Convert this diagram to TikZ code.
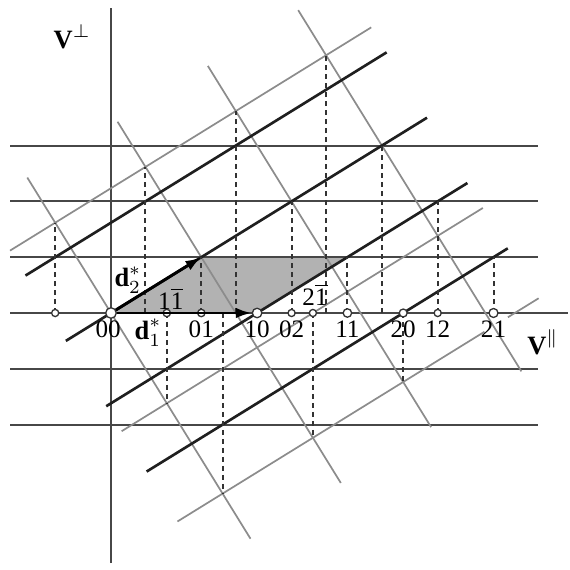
\documentclass[tikz,border=0pt]{standalone}
\usepackage{fontspec}
\setmainfont{Liberation Serif}
\usepackage{amsmath}
\usetikzlibrary{arrows.meta,calc}

\tikzset{
  axisline/.style={black!72,line width=0.85pt},
  rowline/.style={black!72,line width=0.8pt},
  darkline/.style={black!88,line width=1pt},
  lightline/.style={black!45,line width=0.65pt},
  drop/.style={black!80,line width=0.75pt,dash pattern=on 2pt off 1.4pt},
  spot/.style={circle,draw=black!80,fill=white,line width=0.5pt,inner sep=0pt,minimum size=#1},
  vec/.style={black,line width=1.1pt,-{Latex[length=6pt,width=4pt]}},
  idx/.style={inner sep=0pt,font=\fontsize{9.5}{11}\selectfont}
}

\begin{document}
\begin{tikzpicture}[x=1.2cm,y=1.2cm]
  \pgfmathsetmacro{\g}{1.618034}
  \useasboundingbox (-1.2292,-2.8461) rectangle (5.0831,3.4662);
  % unit cell
  \fill[black!30] (0,0) -- (\g,0) -- (\g+1,1/\g) -- (1,1/\g) -- cycle;
  % axes and the rows k = const
  \draw[axisline] (-1.118,0) -- (5.06,0);
  \draw[axisline] (0,-2.769) -- (0,3.378);
  \foreach \k in {-2,-1,1,2,3}
    \draw[rowline] (-1.118,\k/\g) -- (4.729,\k/\g);
  % square lattice and sheared lines, rotated frame
  \begin{scope}[rotate=31.7175,scale=1.17557]
    \foreach \j in {0,...,3}
      \draw[lightline] (\j,1.5) -- (\j,-2.5);
    \draw[lightline] (-0.5,1) -- (3.5,1);
    \draw[lightline] (-0.5,-1) -- (3.5,-1);
    \draw[lightline] (-0.5,-2) -- (2.9,-2) (3.16,-2) -- (3.5,-2);
    \foreach \h in {-1,...,2}
      \draw[darkline] (-0.5,{-0.7236*(\h)}) -- (3.5,{-0.7236*(\h)});
  \end{scope}
  % projections onto V parallel
  \foreach \h/\k in {-1/1,-1/2,-1/3,-1/4,0/1,0/2,0/3,1/-1,2/-2,2/-1,2/0}
    \draw[drop] ({(\h)*\g+(\k)},0) -- ({(\h)*\g+(\k)},{(\k)/\g-(\h)/\g/\g});
  \foreach \h/\k in {1/1,1/2,2/1}
    \draw[drop] ({(\h)*\g+(\k)},0) -- ({(\h)*\g+(\k)},{(\k)/\g});
  % reflections
  \foreach \n/\h/\k/\s in {m11/-1/1/2.7pt,00/0/0/4pt,1m1/1/-1/2.8pt,01/0/1/2.8pt,
      10/1/0/3.6pt,02/0/2/2.7pt,2m1/2/-1/2.7pt,11/1/1/3.2pt,20/2/0/3pt,
      12/1/2/2.7pt,21/2/1/3.4pt}
    \node[spot=\s] (S\n) at ({(\h)*\g+(\k)},0) {};
  \coordinate (C01) at (1,1/\g);
  \draw[vec] (S00) -- (S10);
  \draw[vec] (S00) -- (C01);
  % indices
  \foreach \n in {01,10,02,11,20,12,21}
    \node[idx,yshift=-6.3pt] at (S\n) {\n};
  \node[idx,xshift=-1.1pt,yshift=-6.3pt] at (S00) {00};
  \node[idx,xshift=1.5pt,yshift=5.3pt] at (S1m1) {1$\overline{\mbox{1}}$};
  \node[idx,xshift=0.8pt,yshift=6.8pt] at (S2m1) {2$\overline{\mbox{1}}$};
  \node at (0.188,0.365) {$\textbf{d}_2^*$};
  \node at (0.41,-0.22) {$\textbf{d}_1^*$};
  \node at (-0.43,3.056) {$\textbf{V}^{\perp}$};
  \node at (4.784,-0.321) {$\textbf{V}^{\parallel}$};
\end{tikzpicture}
\end{document}
